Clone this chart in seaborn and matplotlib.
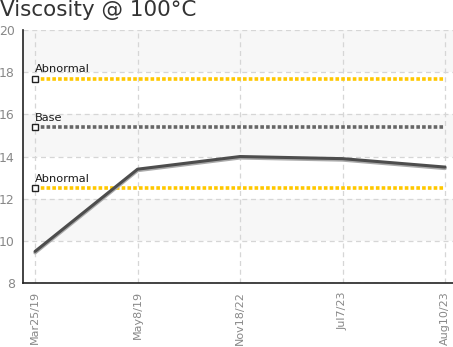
import matplotlib
matplotlib.use("Agg")
import matplotlib.pyplot as plt
import pandas as pd
import seaborn as sns

# ── chart data ─────────────────────────────────────────
dates      = ["Mar25/19", "May8/19", "Nov18/22", "Jul7/23", "Aug10/23"]
viscosity  = [9.5, 13.4, 14.0, 13.9, 13.5]
limit_names  = ["Abnormal", "Base", "Abnormal"]
limit_values = [17.7, 15.4, 12.5]
limit_colors = ["#ffc800", "#666666", "#ffc800"]
y_ticks    = [8, 10, 12, 14, 16, 18, 20]

sns.set_style("white")
plt.rcParams["font.family"] = ["DejaVu Sans"]

fig = plt.figure(figsize=(4.53, 3.47), dpi=100)
ax = fig.add_axes([0.051, 0.1844, 0.949, 0.729])

df = pd.DataFrame({"date": dates, "value": viscosity})
df["pos"] = range(len(df))

# alternating background bands
for i, lo in enumerate(y_ticks[:-1]):
    if i % 2 == 1:
        ax.axhspan(lo, y_ticks[i + 1], color="#f7f7f7", zorder=0, lw=0)

ax.grid(True, color="#d6d6d6", linestyle=(0, (4, 3)), linewidth=0.9)
ax.set_axisbelow(True)

# limit lines
n = len(dates)
for name, val, col in zip(limit_names, limit_values, limit_colors):
    ax.hlines(val, 0, n - 1, colors=col, linestyles=(0, (1, 0.6)),
              linewidth=2.6, zorder=2)
    ax.plot([0], [val], marker="s", markersize=4.5, markerfacecolor="white",
            markeredgecolor="#222222", markeredgewidth=1.0, zorder=4,
            clip_on=False)
    ax.text(0, val + 0.2, name, fontsize=8.2, color="#1a1a1a",
            ha="left", va="bottom", zorder=5)

# main series (slight shadow under the line)
ax.plot(df["pos"], [v - 0.06 for v in df["value"]], color="#aaaaaa",
        linewidth=2.6, zorder=2.5, solid_capstyle="round")
sns.lineplot(data=df, x="pos", y="value", ax=ax, color="#4d4d4d",
             linewidth=2.2, zorder=3)

ax.set_xlim(-0.117, n - 1 + 0.078)
ax.set_ylim(8, 20)
ax.set_xticks(range(n))
ax.set_xticklabels(dates, rotation=90, fontsize=8, color="#888888")
ax.set_yticks(y_ticks)
ax.set_yticklabels([str(t) for t in y_ticks], fontsize=9, color="#888888")
ax.tick_params(axis="both", direction="out", length=4, width=1, color="#222222",
               pad=2)
ax.set_xlabel("")
ax.set_ylabel("")

for s in ["top", "right"]:
    ax.spines[s].set_visible(False)
for s in ["left", "bottom"]:
    ax.spines[s].set_color("#222222")
    ax.spines[s].set_linewidth(1.2)

fig.text(0.0, 1 - 16 / 347, "Viscosity @ 100°C", fontsize=15.5, color="#333333",
         ha="left", va="baseline")

fig.savefig("out.png", dpi=100)
